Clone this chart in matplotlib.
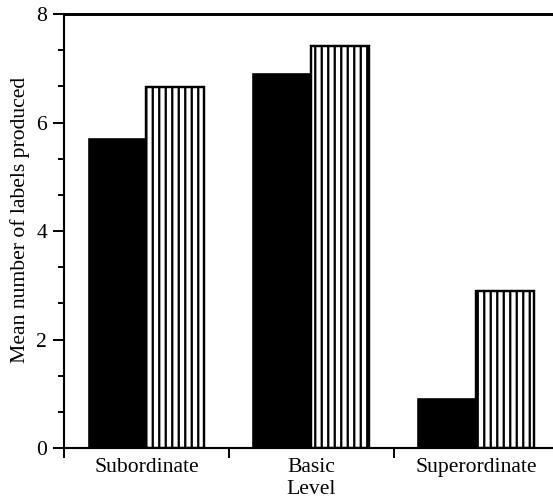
import matplotlib
matplotlib.use("Agg")
import matplotlib.pyplot as plt
from matplotlib.ticker import MultipleLocator, FixedLocator, NullFormatter
import numpy as np

categories = ["Subordinate", "Basic", "Superordinate"]
series_solid = [5.7, 6.9, 0.9]
series_striped = [6.65, 7.42, 2.9]
xlabel = "Level"
ylabel = "Mean number of labels produced"

plt.rcParams['font.family'] = ['Liberation Serif', 'DejaVu Serif']
plt.rcParams['hatch.linewidth'] = 1.4

DPI = 117
fig = plt.figure(figsize=(553 / DPI, 504 / DPI), dpi=DPI)
ax = fig.add_axes([0.1157, 0.111, 0.894, 0.861])

x = np.arange(len(categories))
w = 0.35
ax.bar(x - w / 2, series_solid, width=w, color='black', edgecolor='black', linewidth=1)
ax.bar(x + w / 2, series_striped, width=w, color='white', edgecolor='black',
       hatch='|||', linewidth=1.5)

ax.set_xlim(-0.5, 2.5)
ax.set_ylim(0, 8)
ax.set_xticks(x)
ax.set_xticklabels(categories, fontsize=13.3)
ax.xaxis.set_major_locator(FixedLocator(x))
ax.tick_params(axis='x', which='major', length=0, pad=6)
ax.xaxis.set_minor_locator(FixedLocator([-0.5, 0.5, 1.5, 2.5]))
ax.tick_params(axis='x', which='minor', length=6, width=1.2, direction='out')

ax.yaxis.set_major_locator(MultipleLocator(2))
ax.yaxis.set_minor_locator(MultipleLocator(2 / 3))
ax.yaxis.set_minor_formatter(NullFormatter())
ax.tick_params(axis='y', which='major', length=7, width=1.2, labelsize=13.3, direction='out')
ax.tick_params(axis='y', which='minor', length=4, width=1.2, direction='out')

ax.set_xlabel(xlabel, fontsize=13.3, labelpad=2)
ax.set_ylabel(ylabel, fontsize=13.3, labelpad=4)
ax.yaxis.label.set_y(0.525)

for s in ['left', 'bottom']:
    ax.spines[s].set_linewidth(1.3)
ax.spines['top'].set_linewidth(1.8)
ax.spines['right'].set_visible(False)

fig.savefig("out.png", dpi=DPI)
